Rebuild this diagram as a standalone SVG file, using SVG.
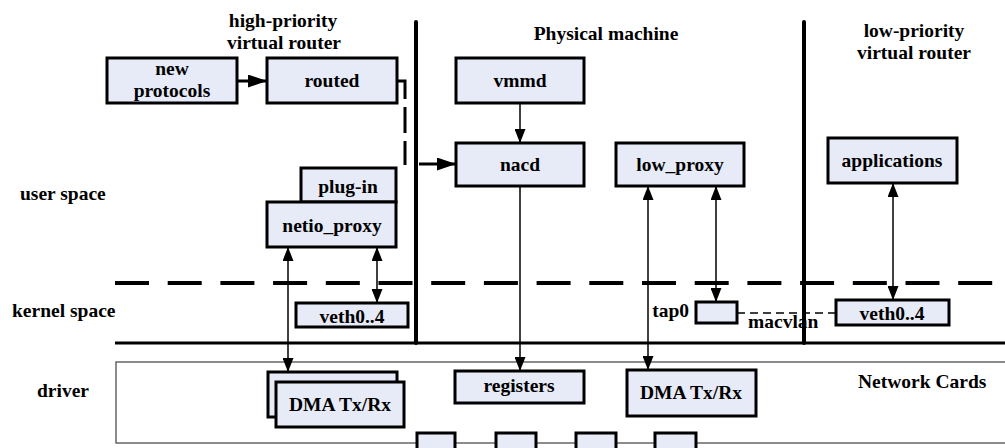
<svg xmlns="http://www.w3.org/2000/svg" width="1005" height="448" viewBox="0 0 1005 448">
<style>
.box{fill:#E7EBF7;stroke:#000;stroke-width:3}
.t{font-family:"Liberation Serif","Times New Roman",serif;font-weight:bold;font-size:19.5px;fill:#000}
.c{text-anchor:middle}
.thin{stroke:#000;stroke-width:1.5;fill:none}
.thick{stroke:#000;stroke-width:3;fill:none}
.sep{stroke:#000;stroke-width:4;fill:none;stroke-linecap:round}
</style>
<defs>
<marker id="ah" markerUnits="userSpaceOnUse" markerWidth="14" markerHeight="11" refX="14" refY="5.5" orient="auto-start-reverse">
<path d="M0,0 L14,5.5 L0,11 z" fill="#000"/>
</marker>
<marker id="ahb" markerUnits="userSpaceOnUse" markerWidth="19" markerHeight="13" refX="19" refY="6.5" orient="auto">
<path d="M0,0 L19,6.5 L0,13 z" fill="#000"/>
</marker>
</defs>
<rect width="1005" height="448" fill="#fff"/>

<g id="frame">
<line class="sep" x1="416" y1="22" x2="416" y2="343"/>
<line class="sep" x1="804" y1="22" x2="804" y2="343"/>
<line x1="115" y1="283" x2="1005" y2="283" stroke="#000" stroke-width="4" stroke-dasharray="34 18.7"/>
<line x1="115" y1="343" x2="1005" y2="343" stroke="#000" stroke-width="3"/>
<rect id="network-cards" x="116" y="362" width="900" height="81" fill="none" stroke="#666" stroke-width="1.5"/>
</g>

<g id="labels">
<text class="t c" x="283" y="27">high-priority</text>
<text class="t c" x="284" y="49">virtual router</text>
<text class="t c" x="606" y="40">Physical machine</text>
<text class="t c" x="914" y="37">low-priority</text>
<text class="t c" x="914" y="59">virtual router</text>
<text class="t" x="20" y="200">user space</text>
<text class="t" x="12" y="317">kernel space</text>
<text class="t" x="37" y="397">driver</text>
<text class="t" x="858" y="388">Network Cards</text>
<text class="t" x="689" y="317" text-anchor="end">tap0</text>
<text class="t" x="748" y="328">macvlan</text>
</g>

<g id="connectors">
<line class="thick" x1="237" y1="81" x2="267" y2="81" marker-end="url(#ahb)"/>
<path d="M397,81 H405 V165" stroke="#000" stroke-width="3" fill="none" stroke-dasharray="26 8 26 8 24 100"/>
<line class="thick" x1="419" y1="164" x2="456" y2="164" marker-end="url(#ahb)"/>
<line class="thin" x1="520" y1="103" x2="520" y2="143" marker-end="url(#ah)"/>
<line class="thin" x1="520" y1="186" x2="520" y2="371" marker-end="url(#ah)"/>
<line class="thin" x1="648" y1="186" x2="648" y2="370" marker-start="url(#ah)" marker-end="url(#ah)"/>
<line class="thin" x1="716" y1="186" x2="716" y2="302" marker-start="url(#ah)" marker-end="url(#ah)"/>
<line class="thin" x1="893" y1="183" x2="893" y2="300" marker-start="url(#ah)" marker-end="url(#ah)"/>
<line class="thin" x1="288" y1="247" x2="288" y2="372" marker-start="url(#ah)" marker-end="url(#ah)"/>
<line class="thin" x1="377" y1="247" x2="377" y2="303" marker-start="url(#ah)" marker-end="url(#ah)"/>
<line x1="737" y1="313" x2="836" y2="313" stroke="#000" stroke-width="1.5" stroke-dasharray="8 5"/>
</g>

<g id="new-protocols"><rect class="box" x="107" y="58" width="130" height="45"/>
<text class="t c" x="172" y="75">new</text><text class="t c" x="172" y="97">protocols</text></g>
<g id="routed"><rect class="box" x="267" y="58" width="130" height="45"/><text class="t c" x="332" y="87">routed</text></g>
<g id="plug-in"><rect class="box" x="301" y="168" width="95" height="34"/><text class="t c" x="348" y="193">plug-in</text></g>
<g id="netio-proxy"><rect class="box" x="267" y="202" width="129" height="45"/><text class="t c" x="332" y="232">netio_proxy</text></g>
<g id="veth-left"><rect class="box" x="296" y="303" width="112" height="24"/><text class="t c" x="352" y="323">veth0..4</text></g>
<g id="vmmd"><rect class="box" x="456" y="58" width="128" height="45"/><text class="t c" x="520" y="87">vmmd</text></g>
<g id="nacd"><rect class="box" x="456" y="143" width="128" height="43"/><text class="t c" x="520" y="171">nacd</text></g>
<g id="low-proxy"><rect class="box" x="616" y="143" width="128" height="43"/><text class="t c" x="680" y="171">low_proxy</text></g>
<g id="applications"><rect class="box" x="828" y="138" width="129" height="45"/><text class="t c" x="892" y="167">applications</text></g>
<g id="tap0"><rect class="box" x="696" y="302" width="41" height="21"/></g>
<g id="veth-right"><rect class="box" x="836" y="300" width="113" height="25"/><text class="t c" x="892" y="320">veth0..4</text></g>
<g id="dma-left"><rect class="box" x="268" y="372" width="129" height="45"/><rect class="box" x="276" y="382" width="128" height="45"/><text class="t c" x="340" y="411">DMA Tx/Rx</text></g>
<g id="registers"><rect class="box" x="455" y="371" width="129" height="32"/><text class="t c" x="519" y="392">registers</text></g>
<g id="dma-right"><rect class="box" x="627" y="370" width="129" height="46"/><text class="t c" x="691" y="399">DMA Tx/Rx</text></g>
<g id="ports">
<rect class="box" x="417" y="433" width="38" height="25"/>
<rect class="box" x="496" y="433" width="40" height="25"/>
<rect class="box" x="576" y="433" width="40" height="25"/>
<rect class="box" x="655" y="433" width="41" height="25"/>
</g>
</svg>
